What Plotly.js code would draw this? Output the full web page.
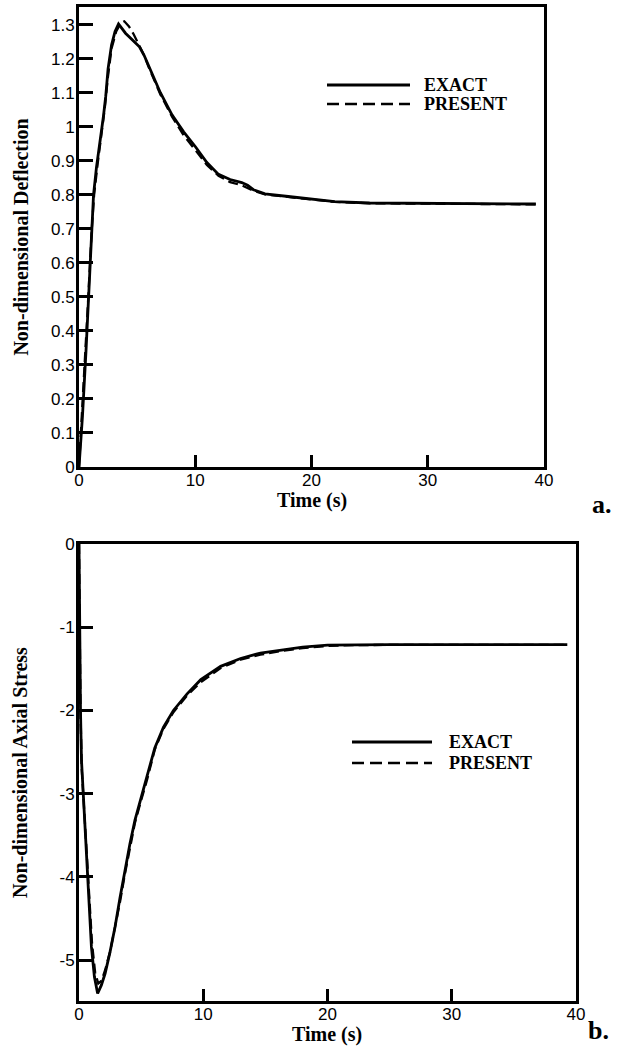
<!DOCTYPE html>
<html>
<head>
<meta charset="utf-8">
<script src="https://cdn.plot.ly/plotly-3.0.1.min.js"></script>
<style>html,body{margin:0;padding:0;background:#fff;}#chart{width:618px;height:1049px;}</style>
</head>
<body>
<div id="chart"></div>
<script>
// ---- Panel a: Non-dimensional deflection ----
const defExactT = [0, 0.3, 0.6, 0.9, 1.1, 1.25, 1.5, 1.8, 2.1, 2.3, 2.5, 2.8, 3.1, 3.4, 4.0, 4.6, 5.2, 5.6, 6.0, 7.0, 8.0, 9.0, 10.0, 11.0, 12.0, 13.0, 14.0, 14.5, 15.0, 16.0, 18.0, 20.0, 22.0, 25.0, 30.0, 35.0, 39.3];
const defExactY = [0, 0.15, 0.34, 0.55, 0.68, 0.80, 0.88, 0.95, 1.03, 1.09, 1.17, 1.24, 1.28, 1.302, 1.275, 1.255, 1.235, 1.21, 1.18, 1.10, 1.035, 0.985, 0.942, 0.895, 0.86, 0.845, 0.836, 0.828, 0.815, 0.803, 0.795, 0.788, 0.78, 0.776, 0.775, 0.774, 0.773];
const defPresT = [0, 0.2, 0.5, 0.8, 1.1, 1.3, 1.6, 1.9, 2.2, 2.5, 2.8, 3.2, 3.6, 3.9, 4.3, 4.7, 5.2, 5.6, 6.0, 7.0, 8.0, 9.0, 10.0, 11.0, 12.0, 13.0, 14.0, 15.0, 16.0, 18.0, 20.0, 22.0, 25.0, 30.0, 35.0, 39.3];
const defPresY = [0, 0.12, 0.30, 0.50, 0.70, 0.80, 0.89, 0.97, 1.05, 1.15, 1.23, 1.28, 1.305, 1.31, 1.295, 1.272, 1.24, 1.21, 1.175, 1.095, 1.03, 0.975, 0.932, 0.888, 0.856, 0.837, 0.828, 0.812, 0.801, 0.793, 0.785, 0.779, 0.775, 0.774, 0.773, 0.772];

// ---- Panel b: Non-dimensional axial stress ----
const strExactT = [0, 0.05, 0.12, 0.2, 0.48, 0.75, 1.0, 1.24, 1.5, 1.8, 2.1, 2.5, 2.9, 3.3, 3.7, 4.1, 4.5, 5.0, 5.5, 6.1, 6.8, 7.6, 8.7, 9.8, 11.4, 13.0, 14.6, 16.5, 18.0, 20.0, 22.0, 25.0, 30.0, 35.0, 39.3];
const strExactY = [0, -1.0, -2.0, -2.6, -3.4, -4.2, -4.84, -5.2, -5.4, -5.3, -5.16, -4.9, -4.6, -4.25, -3.92, -3.6, -3.32, -3.05, -2.8, -2.45, -2.2, -2.0, -1.8, -1.63, -1.47, -1.375, -1.31, -1.27, -1.24, -1.215, -1.21, -1.21, -1.21, -1.21, -1.21];
const strPresT = [0, 0.05, 0.12, 0.22, 0.5, 0.78, 1.05, 1.3, 1.55, 1.8, 2.1, 2.5, 2.9, 3.3, 3.7, 4.1, 4.5, 5.0, 5.5, 6.1, 6.8, 7.6, 8.7, 9.8, 11.4, 13.0, 14.6, 16.5, 18.0, 20.0, 22.0, 25.0, 30.0, 35.0, 39.3];
const strPresY = [0, -1.0, -2.0, -2.7, -3.45, -4.2, -4.8, -5.15, -5.28, -5.25, -5.12, -4.9, -4.62, -4.3, -3.96, -3.64, -3.35, -3.08, -2.82, -2.47, -2.22, -2.02, -1.82, -1.66, -1.49, -1.39, -1.33, -1.28, -1.25, -1.225, -1.215, -1.212, -1.212, -1.212, -1.212];

// ---- Tick labels ----
const xTickVals = [0, 10, 20, 30, 40];
const xTickText = ['0', '10', '20', '30', '40'];
const yTickValsA = [0, 0.1, 0.2, 0.3, 0.4, 0.5, 0.6, 0.7, 0.8, 0.9, 1.0, 1.1, 1.2, 1.3];
const yTickTextA = ['0', '0.1', '0.2', '0.3', '0.4', '0.5', '0.6', '0.7', '0.8', '0.9', '1', '1.1', '1.2', '1.3'];
const yTickValsB = [0, -1, -2, -3, -4, -5];
const yTickTextB = ['0', '-1', '-2', '-3', '-4', '-5'];

const seriesNames = ['EXACT', 'PRESENT'];
const xTitle = 'Time (s)';
const yTitleA = 'Non-dimensional Deflection';
const yTitleB = 'Non-dimensional Axial Stress';
const panelLabels = ['a.', 'b.'];

const W = 618, H = 1049;
const px = x => x / W;
const py = y => 1 - y / H;

const solid = {color: '#000', width: 2.8};
const dashed = {color: '#000', width: 2.3, dash: '10px,5px'};

const traces = [
  {x: defExactT, y: defExactY, mode: 'lines', line: solid, xaxis: 'x', yaxis: 'y', name: seriesNames[0]},
  {x: defPresT, y: defPresY, mode: 'lines', line: dashed, xaxis: 'x', yaxis: 'y', name: seriesNames[1]},
  {x: strExactT, y: strExactY, mode: 'lines', line: solid, xaxis: 'x2', yaxis: 'y2', name: seriesNames[0]},
  {x: strPresT, y: strPresY, mode: 'lines', line: dashed, xaxis: 'x2', yaxis: 'y2', name: seriesNames[1]}
];

const tickFont = {family: 'Liberation Sans, Arial, sans-serif', size: 17, color: '#000'};
const titleFont = {family: 'Liberation Serif, Times New Roman, serif', size: 20, color: '#000', weight: 'bold'};

function xax(domain, anchor) {
  return {
    domain: domain, anchor: anchor, range: [0, 40],
    tickmode: 'array', tickvals: xTickVals, ticktext: xTickText,
    showline: true, mirror: true, linecolor: '#000', linewidth: 3,
    ticks: 'inside', ticklen: 12, tickwidth: 3, tickcolor: '#000',
    ticklabelstandoff: -4,
    showgrid: false, zeroline: false, tickfont: tickFont
  };
}
function yax(domain, anchor, range, vals, text, title, standoff) {
  return {
    domain: domain, anchor: anchor, range: range,
    tickmode: 'array', tickvals: vals, ticktext: text,
    showline: true, mirror: true, linecolor: '#000', linewidth: 3,
    ticks: 'inside', ticklen: 14, tickwidth: 3, tickcolor: '#000',
    ticklabelstandoff: -2,
    showgrid: false, zeroline: false, tickfont: tickFont,
    title: {text: title, font: titleFont, standoff: standoff}
  };
}

const legendDefs = [
  {x0: 327, x1: 410, yS: 85, yD: 104, tx: 422},
  {x0: 352, x1: 432, yS: 742, yD: 763, tx: 447}
];
const shapes = [];
const annotations = [];
const legFont = {family: 'Liberation Serif, Times New Roman, serif', size: 18, color: '#000', weight: 'bold'};
legendDefs.forEach(d => {
  shapes.push({type: 'line', xref: 'paper', yref: 'paper', x0: px(d.x0), x1: px(d.x1), y0: py(d.yS), y1: py(d.yS), line: {color: '#000', width: 2.8}});
  shapes.push({type: 'line', xref: 'paper', yref: 'paper', x0: px(d.x0), x1: px(d.x1), y0: py(d.yD), y1: py(d.yD), line: {color: '#000', width: 2.3, dash: '12px,6px'}});
  annotations.push({xref: 'paper', yref: 'paper', x: px(d.tx), y: py(d.yS), text: seriesNames[0], showarrow: false, xanchor: 'left', yanchor: 'middle', font: legFont});
  annotations.push({xref: 'paper', yref: 'paper', x: px(d.tx), y: py(d.yD), text: seriesNames[1], showarrow: false, xanchor: 'left', yanchor: 'middle', font: legFont});
});
// x-axis titles (placed tight under the tick labels, as in the original)
annotations.push({xref: 'paper', yref: 'paper', x: px(311.5), y: py(501), text: xTitle, showarrow: false, xanchor: 'center', yanchor: 'middle', font: titleFont});
annotations.push({xref: 'paper', yref: 'paper', x: px(327.5), y: py(1034), text: xTitle, showarrow: false, xanchor: 'center', yanchor: 'middle', font: titleFont});
const labFont = {family: 'Liberation Serif, Times New Roman, serif', size: 26, color: '#000', weight: 'bold'};
annotations.push({xref: 'paper', yref: 'paper', x: px(602), y: py(504), text: panelLabels[0], showarrow: false, xanchor: 'center', yanchor: 'middle', font: labFont});
annotations.push({xref: 'paper', yref: 'paper', x: px(598), y: py(1030), text: panelLabels[1], showarrow: false, xanchor: 'center', yanchor: 'middle', font: labFont});

const layout = {
  width: W, height: H,
  margin: {l: 0, r: 0, t: 0, b: 0},
  paper_bgcolor: '#fff', plot_bgcolor: '#fff',
  showlegend: false,
  xaxis: xax([px(79), px(544)], 'y'),
  yaxis: yax([py(467), py(7)], 'x', [0, 1.352], yTickValsA, yTickTextA, yTitleA, 17),
  xaxis2: xax([px(79), px(576)], 'y2'),
  yaxis2: yax([py(1001), py(544)], 'x2', [-5.49, 0], yTickValsB, yTickTextB, yTitleB, 27),
  shapes: shapes,
  annotations: annotations
};

Plotly.newPlot('chart', traces, layout, {displayModeBar: false, staticPlot: true});
</script>
</body>
</html>
